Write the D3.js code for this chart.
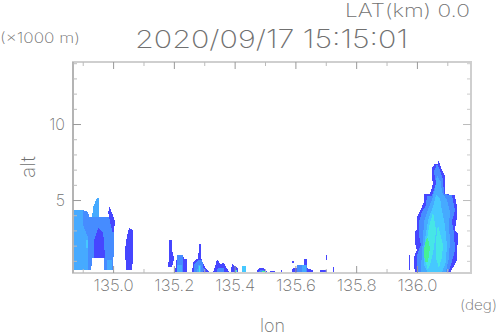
<!DOCTYPE html>
<html>
<head>
<meta charset="utf-8">
<script src="https://d3js.org/d3.v7.min.js"></script>
<style>
html, body { margin: 0; background: #fff; }
text { font-family: "Inter", "DejaVu Sans", sans-serif; font-weight: 200; fill: #707070; }
</style>
</head>
<body>
<div id="chart"></div>
<script>
var svgWidth = 498;
var svgHeight = 336;

var margin = { top: 62, right: 27, bottom: 63, left: 73 };

var width = svgWidth - margin.left - margin.right;
var height = svgHeight - margin.top - margin.bottom;

var lonDomain = [134.868, 136.178];
var altDomain = [0.2, 14.08];

var lonMajor = [135.0, 135.2, 135.4, 135.6, 135.8, 136.0];
var lonMinor = [134.9, 135.1, 135.3, 135.5, 135.7, 135.9, 136.1];
var altMajor = [5, 10];
var altMinor = [1, 2, 3, 4, 6, 7, 8, 9, 11, 12, 13, 14];

// echo bands, each a list of [lon, alt] outlines
var band1 = [
  [[135.053,3.16],[135.066,3.03],[135.066,1.71],[135.063,0.39],[135.043,0.39],[135.039,1.71],[135.046,2.70]],
  [[135.184,2.37],[135.194,2.37],[135.194,1.71],[135.201,1.18],[135.194,0.59],[135.181,0.59],[135.184,1.38]],
  [[135.214,1.38],[135.230,1.38],[135.234,1.12],[135.243,1.12],[135.243,0.2],[135.204,0.2],[135.207,0.92]],
  [[135.283,2.11],[135.289,2.11],[135.289,1.18],[135.303,0.53],[135.319,0.26],[135.319,0.2],[135.260,0.2],[135.263,0.92],[135.280,1.18]],
  [[135.342,1.12],[135.352,0.79],[135.365,0.86],[135.378,0.39],[135.382,0.2],[135.329,0.2],[135.336,0.66]],
  [[135.391,0.86],[135.401,0.66],[135.411,0.53],[135.411,0.2],[135.388,0.2]],
  [[135.480,0.53],[135.497,0.53],[135.507,0.26],[135.507,0.2],[135.474,0.2],[135.474,0.33]],
  [[135.516,0.33],[135.533,0.33],[135.536,0.2],[135.513,0.2]],
  [[135.553,0.39],[135.556,0.39],[135.559,0.2],[135.549,0.2]],
  [[135.586,0.2],[135.592,0.53],[135.605,0.53],[135.605,0.72],[135.628,0.72],[135.628,1.12],[135.638,1.12],[135.638,0.53],[135.658,0.39],[135.658,0.2]],
  [[135.589,0.99],[135.595,0.99],[135.595,0.86],[135.589,0.86]],
  [[135.668,0.26],[135.674,0.26],[135.674,0.2],[135.668,0.2]],
  [[135.681,0.39],[135.704,0.39],[135.704,0.2],[135.681,0.2]],
  [[135.701,1.38],[135.704,1.38],[135.704,1.05],[135.701,1.05]],
  [[135.724,0.59],[135.727,0.59],[135.727,0.2],[135.724,0.2]],
  [[135.974,1.38],[135.977,1.38],[135.977,0.39],[135.974,0.39]],
  [[136.069,7.63],[136.069,7.37],[136.059,7.37],[136.049,7.11],[136.049,6.51],[136.053,6.12],[136.043,5.39],[136.023,5.39],[136.023,4.87],[136.016,4.54],[136.000,3.88],[136.000,3.03],[135.993,2.89],[135.993,2.17],[136.000,1.71],[135.990,1.25],[135.990,0.59],[135.997,0.2],[136.109,0.2],[136.118,0.53],[136.132,1.05],[136.135,2.83],[136.125,3.03],[136.132,3.88],[136.132,4.54],[136.125,5.33],[136.092,5.39],[136.092,6.64],[136.082,6.97],[136.076,7.37]]
];
var band2 = [
  [[134.882,4.34],[134.898,4.34],[134.898,3.16],[134.882,3.16]],
  [[134.901,4.34],[134.918,4.21],[134.921,3.88],[135.000,3.88],[135.003,2.37],[135.000,0.39],[134.970,0.39],[134.970,1.18],[134.931,1.18],[134.928,0.39],[134.905,0.39],[134.918,2.50],[134.901,3.36]],
  [[135.211,1.38],[135.230,1.38],[135.230,0.2],[135.211,0.2]],
  [[135.280,1.05],[135.293,1.05],[135.299,0.39],[135.296,0.2],[135.266,0.2],[135.266,0.72]],
  [[135.345,0.53],[135.365,0.53],[135.365,0.2],[135.339,0.2]],
  [[135.484,0.39],[135.497,0.39],[135.503,0.2],[135.477,0.2]],
  [[135.605,0.72],[135.638,0.72],[135.638,0.2],[135.605,0.2]],
  [[136.066,7.37],[136.056,6.84],[136.063,6.12],[136.049,5.26],[136.033,5.26],[136.030,4.67],[136.016,4.21],[136.007,3.55],[136.007,2.70],[136.013,2.04],[136.000,1.38],[136.003,0.2],[136.102,0.2],[136.115,0.92],[136.125,1.71],[136.122,2.89],[136.115,3.55],[136.125,4.34],[136.115,5.33],[136.089,5.39],[136.086,6.32],[136.076,6.97]]
];
var band3 = [
  [[134.868,4.34],[134.901,4.34],[134.901,3.36],[134.918,2.50],[134.918,0.39],[134.868,0.39]],
  [[134.947,5.13],[134.954,5.13],[134.954,3.88],[134.931,3.88],[134.934,4.54]],
  [[134.980,1.05],[134.997,1.05],[134.997,0.39],[134.980,0.39]],
  [[135.211,0.72],[135.227,0.72],[135.227,0.2],[135.211,0.2]],
  [[135.280,0.72],[135.289,0.72],[135.289,0.2],[135.276,0.2]],
  [[135.523,0.26],[135.530,0.26],[135.530,0.2],[135.523,0.2]],
  [[135.622,0.72],[135.635,0.72],[135.635,0.2],[135.622,0.2]],
  [[136.066,6.64],[136.059,5.66],[136.049,5.00],[136.036,4.34],[136.023,3.55],[136.020,2.37],[136.016,1.38],[136.013,0.2],[136.095,0.2],[136.105,1.18],[136.109,2.37],[136.105,3.36],[136.109,4.21],[136.099,5.00],[136.082,5.53],[136.079,6.18]]
];
// weak cells sitting on top of the stronger ones in the west group
var band1Over = [
  [[134.951,3.16],[134.967,2.89],[134.974,1.18],[134.938,1.18],[134.938,2.37]],
  [[134.987,4.61],[134.997,4.14],[135.007,3.55],[135.000,2.70],[134.990,3.55],[134.984,4.14]]
];
var band4 = [
  [[134.911,2.37],[134.918,2.37],[134.918,1.84],[134.911,1.84]],
  [[135.424,0.66],[135.438,0.66],[135.438,0.2],[135.424,0.2]],
  [[136.063,5.33],[136.053,4.54],[136.039,3.82],[136.030,2.89],[136.023,1.71],[136.023,0.72],[136.036,0.2],[136.082,0.2],[136.095,0.92],[136.099,2.04],[136.092,3.36],[136.082,4.34],[136.076,5.13]]
];
var band5 = [
  [[135.283,0.66],[135.286,0.66],[135.286,0.26],[135.283,0.26]],
  [[135.401,0.39],[135.408,0.39],[135.408,0.2],[135.401,0.2]],
  [[136.053,4.21],[136.039,3.16],[136.030,2.04],[136.026,1.18],[136.036,0.39],[136.046,0.92],[136.056,1.84],[136.063,3.03]],
  [[136.069,3.36],[136.086,2.04],[136.082,1.18],[136.072,0.53],[136.063,1.18],[136.063,2.37]]
];
var band6 = [
  [[135.490,0.33],[135.500,0.33],[135.500,0.2],[135.490,0.2]],
  [[136.030,2.37],[136.036,2.50],[136.043,1.84],[136.036,0.92],[136.026,0.92],[136.023,1.71]]
];

var bands = [band1, band2, band3, band1Over, band4, band5, band6];
var bandColors = ["#4646ff", "#468cff", "#46aaff", "#4646ff", "#46c8ff", "#46e6e6", "#46f096"];

var svg = d3.select("#chart")
  .append("svg")
  .attr("width", svgWidth)
  .attr("height", svgHeight);

var chartGroup = svg.append("g")
  .attr("transform", `translate(${margin.left}, ${margin.top})`);

var xScale = d3.scaleLinear().domain(lonDomain).range([0, width]);
var yScale = d3.scaleLinear().domain(altDomain).range([height, 0]);

var outline = d3.line()
  .x(d => xScale(d[0]))
  .y(d => yScale(d[1]))
  .curve(d3.curveLinearClosed);

bands.forEach(function(band, i) {
  chartGroup.selectAll(".band" + i)
    .data(band)
    .enter()
    .append("path")
    .attr("class", "band" + i)
    .attr("d", outline)
    .attr("fill", bandColors[i])
    .attr("shape-rendering", "crispEdges");
});

// frame
chartGroup.append("rect")
  .attr("x", 0).attr("y", 0)
  .attr("width", width).attr("height", height)
  .attr("fill", "none")
  .attr("stroke", "#cfcfcf")
  .attr("stroke-width", 2);
chartGroup.append("line")
  .attr("x1", 0).attr("x2", 0)
  .attr("y1", 0).attr("y2", height)
  .attr("stroke", "#999");

function styleAxis(g, color) {
  g.select(".domain").remove();
  g.selectAll(".tick line").attr("stroke", color);
}

function fmtLon(d) { return d3.format(".1f")(d); }

var bottomMajor = d3.axisBottom(xScale).tickValues(lonMajor).tickSize(-7).tickPadding(7).tickFormat(fmtLon);
var bottomMinor = d3.axisBottom(xScale).tickValues(lonMinor).tickSize(-4).tickFormat("");
var topMajor = d3.axisTop(xScale).tickValues(lonMajor).tickSize(-7).tickFormat("");
var topMinor = d3.axisTop(xScale).tickValues(lonMinor).tickSize(-4).tickFormat("");
var leftMajor = d3.axisLeft(yScale).tickValues(altMajor).tickSize(-8).tickPadding(8).tickFormat(d3.format("d"));
var leftMinor = d3.axisLeft(yScale).tickValues(altMinor).tickSize(-4).tickFormat("");
var rightMajor = d3.axisRight(yScale).tickValues(altMajor).tickSize(-8).tickFormat("");
var rightMinor = d3.axisRight(yScale).tickValues(altMinor).tickSize(-4).tickFormat("");

var bottomG = chartGroup.append("g").attr("transform", `translate(0, ${height})`);
bottomG.append("g").call(bottomMajor).call(styleAxis, "#999");
bottomG.append("g").call(bottomMinor).call(styleAxis, "#bbb");
chartGroup.append("g").call(topMajor).call(styleAxis, "#999");
chartGroup.append("g").call(topMinor).call(styleAxis, "#bbb");
chartGroup.append("g").call(leftMajor).call(styleAxis, "#999");
chartGroup.append("g").call(leftMinor).call(styleAxis, "#bbb");
var rightG = chartGroup.append("g").attr("transform", `translate(${width}, 0)`);
rightG.append("g").call(rightMajor).call(styleAxis, "#bbb");
rightG.append("g").call(rightMinor).call(styleAxis, "#ccc");

chartGroup.selectAll(".tick text")
  .style("font-family", "Inter, 'DejaVu Sans', sans-serif")
  .style("font-size", "16px")
  .style("font-weight", 200)
  .attr("fill", "#707070");
bottomG.selectAll(".tick text")
  .attr("textLength", 40)
  .attr("lengthAdjust", "spacingAndGlyphs");

function label(x, y, size, len, txt) {
  return svg.append("text")
    .attr("x", x).attr("y", y)
    .attr("textLength", len)
    .attr("lengthAdjust", "spacingAndGlyphs")
    .style("font-size", size + "px")
    .text(txt);
}

label(345, 17, 18, 125, "LAT(km) 0.0");
label(135, 48, 25, 273, "2020/09/17 15:15:01");
label(0, 43, 14, 80, "(×1000 m)");
label(460, 310, 14, 37, "(deg)");
label(260, 332, 18, 25, "lon");
svg.append("text")
  .attr("transform", "translate(35, 178) rotate(-90)")
  .attr("textLength", 22)
  .attr("lengthAdjust", "spacingAndGlyphs")
  .style("font-size", "20px")
  .text("alt");
</script>
</body>
</html>
